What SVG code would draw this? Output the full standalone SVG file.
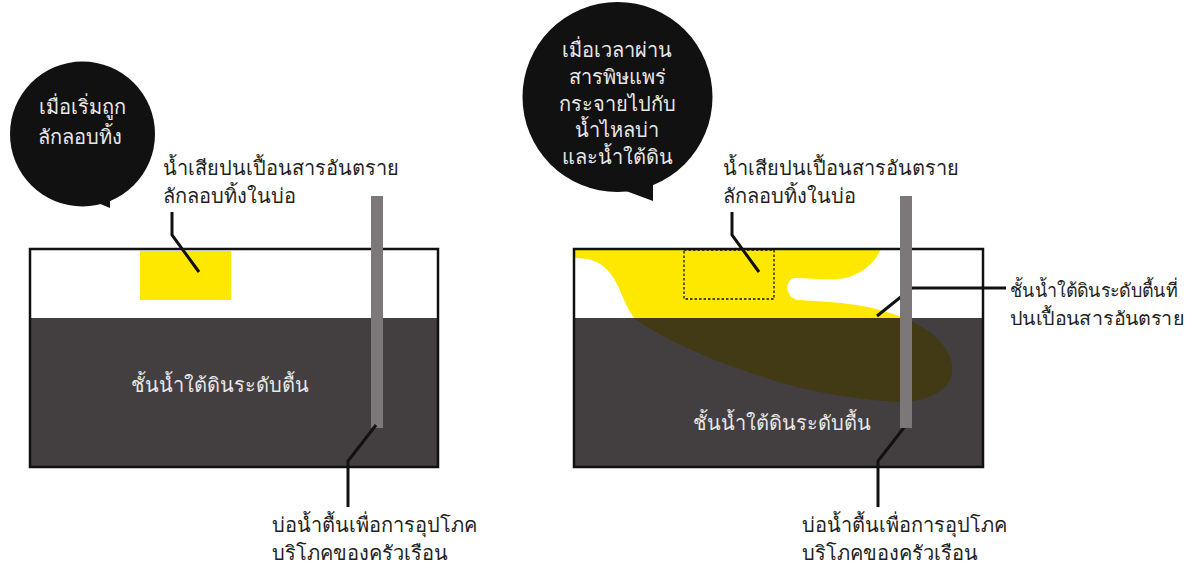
<svg xmlns="http://www.w3.org/2000/svg" width="1189" height="566" viewBox="0 0 1189 566">
  <defs>
    <style>
      .lbl { font-family: "Noto Sans", "DejaVu Sans", sans-serif; font-size: 20px; fill: #231f20; }
      .sm { font-size: 19px; }
      .inv { font-family: "Noto Sans", "DejaVu Sans", sans-serif; font-size: 20px; fill: #e8e8e8; }
      .mid { text-anchor: middle; }
      .lead { fill: none; stroke: #111; stroke-width: 3; }
      .box { fill: none; stroke: #111; stroke-width: 2.5; }
      .soil { fill: #433f40; }
      .pipe { fill: #7c7879; }
      .bubble { fill: #111111; }
    </style>
  </defs>
  <rect width="1189" height="566" fill="#ffffff"/>

  <!-- left panel: dumping begins -->
  <g id="left-panel">
    <rect class="soil" x="30" y="318" width="408" height="149"/>
    <rect x="140" y="251" width="91" height="49" fill="#ffe800"/>
    <rect class="box" x="30" y="249" width="408" height="218"/>
    <rect class="pipe" x="371" y="196" width="12" height="232"/>
    <text class="inv mid" x="220" y="392">ชั้นน้ำใต้ดินระดับตื้น</text>
  </g>

  <g id="left-bubble">
    <circle class="bubble" cx="82.5" cy="134" r="72.5"/>
    <path class="bubble" d="M86 198 L110 208 L110 186 Z"/>
    <text class="inv mid" x="82" y="114">เมื่อเริ่มถูก</text>
    <text class="inv mid" x="80" y="144">ลักลอบทิ้ง</text>
  </g>

  <g id="left-dump-label">
    <text class="lbl" x="163" y="175">น้ำเสียปนเปื้อนสารอันตราย</text>
    <text class="lbl" x="163" y="203">ลักลอบทิ้งในบ่อ</text>
  </g>

  <g id="left-well-label">
    <text class="lbl" x="272" y="532">บ่อน้ำตื้นเพื่อการอุปโภค</text>
    <text class="lbl" x="272" y="560">บริโภคของครัวเรือน</text>
  </g>

  <!-- right panel: contamination spreads -->
  <g id="right-panel">
    <rect class="soil" x="574" y="318" width="409" height="149"/>
    <!-- plume in the unsaturated zone -->
    <path fill="#ffe800" d="M575 250 L880 250 C876 262 862 274 845 278 C830 281 812 278 795 278 C785 279 784 296 797 300 C830 302 870 303 903 318 L634 318 C624 305 620 285 610 273 C602 263 592 258 575 258 Z"/>
    <!-- plume in the shallow aquifer -->
    <path fill="#413a15" d="M634 318 L903 318 C925 326 945 340 951 360 C956 380 945 398 905 402 C860 401 800 390 760 376 C710 360 665 340 634 318 Z"/>
    <rect x="684" y="250" width="90" height="49" fill="none" stroke="#111" stroke-width="1.3" stroke-dasharray="2.5 2"/>
    <rect class="box" x="574" y="249" width="409" height="218"/>
    <text class="inv mid" x="782" y="430">ชั้นน้ำใต้ดินระดับตื้น</text>
  </g>

  <g id="right-bubble">
    <circle class="bubble" cx="617.5" cy="97" r="95"/>
    <path class="bubble" d="M618 188 L653 201 L653 178 Z"/>
    <text class="inv mid" x="617" y="57">เมื่อเวลาผ่าน</text>
    <text class="inv mid" x="617" y="84">สารพิษแพร่</text>
    <text class="inv mid" x="617" y="111">กระจายไปกับ</text>
    <text class="inv mid" x="617" y="137">น้ำไหลบ่า</text>
    <text class="inv mid" x="617" y="164">และน้ำใต้ดิน</text>
  </g>

  <g id="right-dump-label">
    <text class="lbl" x="723" y="175">น้ำเสียปนเปื้อนสารอันตราย</text>
    <text class="lbl" x="723" y="203">ลักลอบทิ้งในบ่อ</text>
  </g>

  <g id="right-aquifer-label">
    <text class="lbl sm" x="1010" y="297" textLength="168" lengthAdjust="spacingAndGlyphs">ชั้นน้ำใต้ดินระดับตื้นที่</text>
    <text class="lbl sm" x="1010" y="325" textLength="174" lengthAdjust="spacingAndGlyphs">ปนเปื้อนสารอันตราย</text>
  </g>

  <g id="right-well-label">
    <text class="lbl" x="802" y="532">บ่อน้ำตื้นเพื่อการอุปโภค</text>
    <text class="lbl" x="802" y="560">บริโภคของครัวเรือน</text>
  </g>

  <!-- leader lines -->
  <g id="connectors">
    <polyline class="lead" points="172,212 172,235 199,272"/>
    <polyline class="lead" points="376,425 348,461 348,507"/>
    <polyline class="lead" points="732,212 732,235 759,272"/>
    <polyline class="lead" points="906,425 878,461 878,507"/>
    <polyline class="lead" points="877,316 912,288 1006,288"/>
  </g>

  <!-- right well pipe drawn over the leader -->
  <g id="right-pipe">
    <rect class="pipe" x="900" y="196" width="12" height="232"/>
  </g>
</svg>
